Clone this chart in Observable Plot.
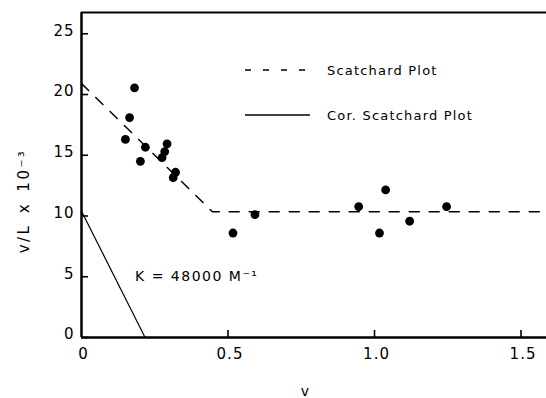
<!DOCTYPE html>
<html><head><meta charset="utf-8">
<script src="https://cdn.jsdelivr.net/npm/d3@7"></script>
<script src="https://cdn.jsdelivr.net/npm/@observablehq/plot@0.6"></script>
<style>
body{margin:0;background:#fff}
#chart svg{font-family:"DejaVu Sans",sans-serif;}
#chart svg g[aria-label="y-axis tick label"] text,
#chart svg g[aria-label="x-axis tick label"] text{letter-spacing:1px;}
</style>
</head><body><div id="chart"></div>
<script>
// ---- data ----
const pointV = [0.150, 0.164, 0.181, 0.201, 0.218, 0.275, 0.284, 0.292, 0.313, 0.321, 0.517, 0.592, 0.946, 1.017, 1.038, 1.120, 1.246];
const pointY = [16.3, 18.1, 20.55, 14.5, 15.66, 14.8, 15.3, 15.94, 13.15, 13.6, 8.6, 10.12, 10.78, 8.6, 12.15, 9.57, 10.78];
const scatchardV = [0, 0.447, 1.6];
const scatchardY = [20.9, 10.35, 10.35];
const correctedV = [0, 0.217];
const correctedY = [10.4, 0];
const xTicks = [0, 0.5, 1.0, 1.5];
const xTickLabels = ["0", "0.5", "1.0", "1.5"];
const yTicks = [0, 5, 10, 15, 20, 25];
const yTickLabels = ["0", "5", "10", "15", "20", "25"];
const xDomain = [0, 1.587];
const yDomain = [0, 26.75];
const legendLabels = ["Scatchard Plot", "Cor. Scatchard Plot"];
const legendDash = ["6,12", null];
const xLabel = "v";
const yLabel = "v/L x 10⁻³";
const annotation = "K = 48000 M⁻¹";

const points = pointV.map((v, i) => ({v, y: pointY[i]}));
const scatchard = scatchardV.map((v, i) => ({v, y: scatchardY[i]}));
const corrected = correctedV.map((v, i) => ({v, y: correctedY[i]}));

const ML = 81, MT = 12, MB = 61, MR = 0, W = 546, H = 398;
const TICK = 7;
const frameW = W - ML - MR, frameH = H - MT - MB;

const chart = Plot.plot({
  width: W, height: H,
  marginLeft: ML, marginRight: MR, marginTop: MT, marginBottom: MB,
  style: {fontFamily: "DejaVu Sans, sans-serif", fontSize: "14px", color: "#000", background: "#fff", overflow: "visible"},
  x: {domain: xDomain},
  y: {domain: yDomain},
  marks: [
    Plot.line(scatchard, {x: "v", y: "y", stroke: "#000", strokeWidth: 1.5, strokeDasharray: "10,10", clip: true}),
    Plot.line(corrected, {x: "v", y: "y", stroke: "#000", strokeWidth: 1.2}),
    Plot.dot(points, {x: "v", y: "y", r: 4.4, fill: "#000"}),
    // inward tick marks
    Plot.tickY(yTicks, {y: d => d, stroke: "#000", strokeWidth: 1.6, insetRight: frameW - TICK}),
    Plot.tickX(xTicks.slice(1), {x: d => d, stroke: "#000", strokeWidth: 1.6, insetTop: frameH - TICK}),
    Plot.ruleX([xDomain[0]], {stroke: "#000", strokeWidth: 2.5}),
    Plot.ruleY([yDomain[0]], {stroke: "#000", strokeWidth: 2.5}),
    Plot.ruleY([yDomain[1]], {stroke: "#000", strokeWidth: 2}),
    Plot.axisY(yTicks, {anchor: "left", tickSize: 0, tickPadding: 7, tickFormat: (d, i) => yTickLabels[i], fontSize: 15, dy: -3, label: null}),
    Plot.axisX(xTicks, {anchor: "bottom", tickSize: 0, tickPadding: 11, tickFormat: (d, i) => xTickLabels[i], fontSize: 15, dx: 2, label: null})
  ]
});
document.getElementById("chart").appendChild(chart);

// Free text (axis titles, annotation, legend), positioned in pixels
const svg = d3.select(chart);
const g = svg.append("g").attr("fill", "#000").attr("font-family", "DejaVu Sans, sans-serif");
g.append("text").attr("transform", "translate(24,201) rotate(-90)")
  .attr("text-anchor", "middle").attr("dy", "0.35em")
  .attr("font-size", 15).attr("letter-spacing", "2.5px").attr("word-spacing", "3px").text(yLabel);
g.append("text").attr("x", 305).attr("y", 391).attr("dy", "0.35em")
  .attr("text-anchor", "middle").attr("font-size", 14).text(xLabel);
g.append("text").attr("x", 135).attr("y", 276).attr("dy", "0.35em")
  .attr("text-anchor", "start").attr("font-size", 14).attr("letter-spacing", "1.5px").text(annotation);
const legendY = [70, 115];
legendLabels.forEach((lab, i) => {
  g.append("line").attr("x1", 245).attr("x2", 310).attr("y1", legendY[i]).attr("y2", legendY[i])
    .attr("stroke", "#000").attr("stroke-width", 1.3).attr("stroke-dasharray", legendDash[i]);
  g.append("text").attr("x", 327).attr("y", legendY[i]).attr("dy", "0.35em")
    .attr("text-anchor", "start").attr("font-size", 13).attr("letter-spacing", "1.2px").text(lab);
});
</script>
</body></html>
